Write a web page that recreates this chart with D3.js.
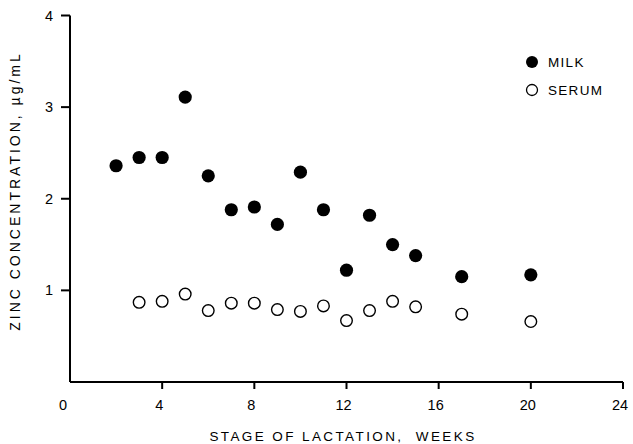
<!DOCTYPE html>
<html><head><meta charset="utf-8">
<script src="https://cdn.jsdelivr.net/npm/d3@7"></script>
<style>
body{margin:0;background:#fff;}
text{font-family:"Liberation Sans",Arial,sans-serif;fill:#000;white-space:pre;}
</style></head>
<body><svg id="c" width="633" height="444"></svg>
<script>
const milkWeeks = [2,3,4,5,6,7,8,9,10,11,12,13,14,15,17,20];
const milkValues = [2.36,2.45,2.45,3.11,2.25,1.88,1.91,1.72,2.29,1.88,1.22,1.82,1.50,1.38,1.15,1.17];
const serumWeeks = [3,4,5,6,7,8,9,10,11,12,13,14,15,17,20];
const serumValues = [0.87,0.88,0.96,0.78,0.86,0.86,0.79,0.77,0.83,0.67,0.78,0.88,0.82,0.74,0.66];
const xTicks = [0,4,8,12,16,20,24];
const yTicks = [1,2,3,4];
const legendLabels = ["MILK","SERUM"];
const xTitle = "STAGE OF LACTATION,  WEEKS";
const yTitle = "ZINC CONCENTRATION, \u00B5g/mL";

const svg = d3.select("#c");
const x = d3.scaleLinear().domain([0,24]).range([70,623]);
const y = d3.scaleLinear().domain([0,4]).range([382,15.5]);

svg.append("line").attr("x1",x(0)).attr("x2",x(24)).attr("y1",y(0)).attr("y2",y(0)).attr("stroke","#000").attr("stroke-width",2);
svg.append("line").attr("x1",x(0)).attr("x2",x(0)).attr("y1",y(0)).attr("y2",y(4)).attr("stroke","#000").attr("stroke-width",2);

const xt = svg.append("g");
xt.selectAll("line").data(xTicks.filter(d=>d>0)).join("line")
  .attr("x1",d=>x(d)).attr("x2",d=>x(d)).attr("y1",y(0)).attr("y2",y(0)+7)
  .attr("stroke","#000").attr("stroke-width",2);
xt.selectAll("text").data(xTicks).join("text")
  .attr("x",d=>d===0?x(d)-7:x(d)-3).attr("y",410).attr("text-anchor","middle")
  .attr("font-size",14.5).text(d=>d);

const yt = svg.append("g");
yt.selectAll("line").data(yTicks).join("line")
  .attr("x1",x(0)-9).attr("x2",x(0)).attr("y1",d=>y(d)).attr("y2",d=>y(d))
  .attr("stroke","#000").attr("stroke-width",2);
yt.selectAll("text").data(yTicks).join("text")
  .attr("x",49).attr("y",d=>y(d)+5).attr("text-anchor","middle")
  .attr("font-size",14.5).text(d=>d);

svg.append("text").attr("x",343).attr("y",441).attr("text-anchor","middle")
  .attr("font-size",13.5).attr("letter-spacing",2.4).text(xTitle);
svg.append("text").attr("transform","translate(20,191) rotate(-90)").attr("text-anchor","middle")
  .attr("font-size",14).attr("letter-spacing",3).text(yTitle);

svg.append("g").selectAll("circle").data(serumWeeks.map((w,i)=>[w,serumValues[i]])).join("circle")
  .attr("cx",d=>x(d[0])).attr("cy",d=>y(d[1])).attr("r",5.8)
  .attr("fill","#fff").attr("stroke","#000").attr("stroke-width",1.4);
svg.append("g").selectAll("circle").data(milkWeeks.map((w,i)=>[w,milkValues[i]])).join("circle")
  .attr("cx",d=>x(d[0])).attr("cy",d=>y(d[1])).attr("r",6.6).attr("fill","#000");

const lg = svg.append("g");
lg.append("circle").attr("cx",532).attr("cy",62).attr("r",6).attr("fill","#000");
lg.append("circle").attr("cx",532).attr("cy",90).attr("r",5.5).attr("fill","#fff").attr("stroke","#000").attr("stroke-width",1.3);
lg.selectAll("text").data(legendLabels).join("text")
  .attr("x",548).attr("y",(d,i)=>67+i*28).attr("font-size",13.5).attr("letter-spacing",1.3).text(d=>d);
</script></body></html>
